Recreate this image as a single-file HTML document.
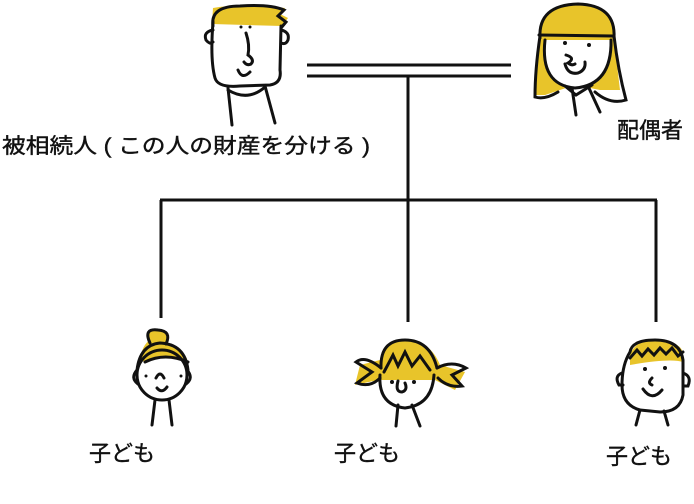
<!DOCTYPE html>
<html><head><meta charset="utf-8"><style>
body{margin:0;background:#fff;width:694px;height:504px;overflow:hidden}
svg{display:block}
text{font-family:"Liberation Sans","Noto Sans CJK JP",sans-serif;fill:#111;stroke:#111;stroke-width:0.4}
</style></head><body>
<svg width="694" height="504" viewBox="0 0 694 504">
<g stroke="#111" stroke-width="3" fill="none">
<line x1="307" y1="65" x2="511" y2="65"/>
<line x1="307" y1="76" x2="511" y2="76"/>
<line x1="408" y1="76" x2="408" y2="200"/>
<line x1="160" y1="200" x2="657" y2="200"/>
<line x1="161" y1="200" x2="161" y2="318"/>
<line x1="408" y1="200" x2="408" y2="322"/>
<line x1="656" y1="200" x2="656" y2="322"/>
</g>
<!-- father -->
<path d="M213 8 Q240 3 285 8 L280 14 L288 18 L282 26 L212 24 Z" fill="#e8c42a"/>
<g stroke="#111" stroke-width="3" fill="none" stroke-linecap="round">
<path d="M213 26 Q210 6 240 6 Q270 4 284 10 L278 16 L286 22 L281 28"/>
<path d="M213 22 Q210 60 215 78 Q218 88 240 86 L270 85 Q282 83 280 70 L281 26"/>
<path d="M213 30 Q203 32 206 40 Q210 45 213 42"/>
<path d="M281 30 Q290 32 288 40 Q286 45 281 43"/>
<path d="M246 33 Q250 45 248 55 Q255 60 251 64 Q247 66 244 62"/>
<path d="M238 70 Q242 80 250 72"/>
<path d="M228 88 L232 125 M265 86 L275 123 M228 90 Q248 102 265 87"/>
</g>
<circle cx="241" cy="27" r="1.5" fill="#111"/><circle cx="250" cy="27" r="1.5" fill="#111"/>
<!-- mother -->
<path d="M540 40 Q538 5 578 4 Q618 6 614 40 L620 90 L600 90 L575 85 L545 95 L535 95 Z" fill="#e8c42a"/>
<g stroke="#111" stroke-width="3" fill="none" stroke-linecap="round">
<path d="M540 38 Q538 5 578 4 Q616 5 614 38"/>
<line x1="539" y1="35" x2="613" y2="36"/>
<path d="M540 36 Q535 70 535 97 Q545 100 558 92"/>
<path d="M614 36 Q618 70 626 100 Q610 105 595 92"/>
<path d="M545 40 Q540 85 575 88 Q612 85 611 40" fill="#fff"/>
<path d="M566 55 Q576 58 568 63 Q572 66 575 64"/>
<path d="M565 64 Q568 75 578 73 Q586 70 585 62"/>
<path d="M572 88 L576 115 M588 86 L600 112 M565 86 L576 95 L592 85"/>
</g>
<circle cx="565" cy="43" r="2" fill="#111"/><circle cx="589" cy="45" r="2" fill="#111"/>
<!-- child 1 -->
<path d="M140 360 Q142 345 150 340 Q143 328 158 330 Q170 330 168 344 Q185 350 188 362 Q165 352 145 362 Z" fill="#e8c42a"/>
<g stroke="#111" stroke-width="3" fill="none" stroke-linecap="round">
<path d="M150 343 Q143 328 158 330 Q172 331 166 344"/>
<path d="M137 370 Q140 345 160 343 Q185 344 188 370"/>
<path d="M145 362 Q165 352 188 362"/>
<circle cx="162" cy="375" r="25" fill="none"/>
<path d="M137 370 Q130 378 138 384 M187 370 Q194 378 186 384"/>
<path d="M156 378 Q160 370 164 378"/>
<path d="M157 388 Q162 394 167 387"/>
<path d="M155 400 L152 425 M169 400 L172 425"/>
</g>
<circle cx="146" cy="376" r="1.5" fill="#111"/><circle cx="181" cy="376" r="1.5" fill="#111"/>
<!-- child 2 -->
<path d="M380 360 Q385 340 405 340 Q430 340 440 365 L465 372 L455 390 L435 380 L378 380 L355 385 L360 365 Z" fill="#e8c42a"/>
<g stroke="#111" stroke-width="3" fill="none" stroke-linecap="round">
<path d="M381 368 Q380 340 405 340 Q430 340 437 368"/>
<path d="M381 368 Q365 355 356 362 L372 372 L357 383 Q370 388 380 378"/>
<path d="M437 368 Q452 360 466 368 L452 375 L462 386 Q448 388 438 378"/>
<path d="M380 375 Q378 405 405 408 Q432 405 434 375"/>
<path d="M384 372 L393 355 L398 366 L405 352 L412 366 L420 356 L430 370"/>
<path d="M398 381 Q395 392 402 392 Q408 390 405 383"/>
<path d="M398 405 L396 426 M412 405 L420 426"/>
</g>
<circle cx="392" cy="382" r="2" fill="#111"/><circle cx="414" cy="382" r="2" fill="#111"/>
<!-- child 3 -->
<path d="M630 355 Q635 340 655 340 Q678 340 683 352 L683 362 Q670 358 630 365 Z" fill="#e8c42a"/>
<g stroke="#111" stroke-width="3" fill="none" stroke-linecap="round">
<path d="M630 352 Q632 340 655 340 Q680 340 683 360 L683 395 Q680 412 660 412 L640 410 Q622 405 622 385 Q622 365 630 352"/>
<path d="M630 358 L637 350 L642 356 L648 349 L654 355 L660 348 L666 354 L672 348 L678 356 L683 352"/>
<path d="M622 373 Q614 376 619 385 L623 385 M683 373 Q692 376 688 386 L684 386"/>
<path d="M652 378 Q647 383 652 385"/>
<path d="M643 389 Q652 402 662 390"/>
<path d="M640 410 L636 425 M664 411 L668 425"/>
</g>
<circle cx="645" cy="369" r="2" fill="#111"/><circle cx="665" cy="368" r="2" fill="#111"/>
<!-- labels -->
<text x="2" y="153" font-size="21" textLength="368" lengthAdjust="spacingAndGlyphs">被相続人 ( この人の財産を分ける )</text>
<text x="617" y="138" font-size="22">配偶者</text>
<text x="89" y="461" font-size="22">子ども</text>
<text x="334" y="461" font-size="22">子ども</text>
<text x="606" y="464" font-size="22">子ども</text>
</svg>
</body></html>
